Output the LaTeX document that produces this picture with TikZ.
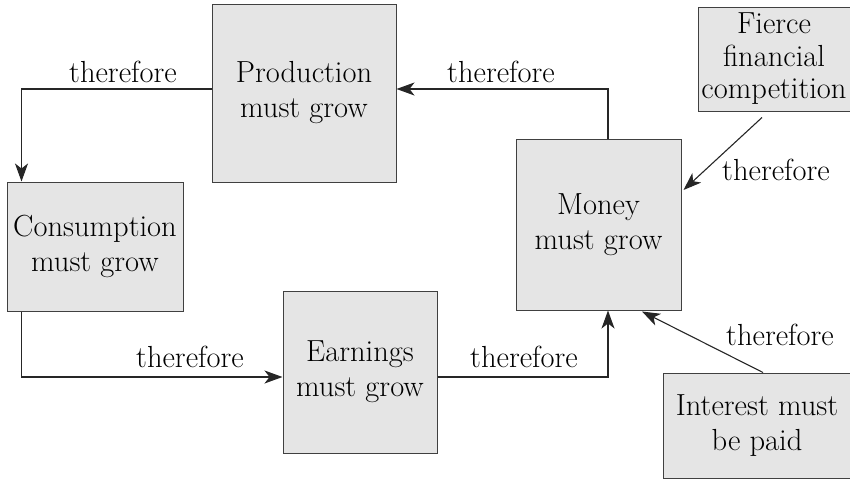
\documentclass[tikz,border=0pt]{standalone}
\usetikzlibrary{arrows.meta,calc}
\begin{document}
\begin{tikzpicture}[x=1pt,y=-1pt,
  box/.style={draw=black!75,fill=black!10,line width=1pt,rectangle,align=center,inner sep=0pt,
    font=\fontsize{30.5}{35}\selectfont},
  lbl/.style={anchor=base,inner sep=0pt,font=\fontsize{30.5}{35}\selectfont},
  arr/.style={draw=black!85,line width=1.1pt,-{Stealth[length=18pt,width=13pt,inset=5pt]}},
  ln/.style={draw=black!85,line width=1.1pt}]
\useasboundingbox (0,0) rectangle (850,479);
\node[box,minimum width=184pt,minimum height=178pt] (prod) at (304,93) {Production\\must grow};
\node[box,minimum width=176pt,minimum height=129pt] (cons) at (95,246.5) {Consumption\\must grow};
\node[box,minimum width=154pt,minimum height=162pt] (earn) at (360,372) {Earnings\\must grow};
\node[box,minimum width=165pt,minimum height=171pt] (money) at (598.5,224.5) {Money\\must grow};
\node[box,minimum width=152pt,minimum height=104pt,font=\fontsize{30.5}{32.5}\selectfont] (fierce) at (774,59) {Fierce\\financial\\competition};
\node[box,minimum width=188pt,minimum height=105pt] (int) at (757,425.5) {Interest must\\be paid};
\draw[arr] ([yshift=4pt]prod.west) -| ([xshift=15pt]cons.north west);
\draw[arr] ([xshift=9.5pt]money.north) |- ([yshift=4pt]prod.east);
\draw[arr] ([xshift=-12pt,yshift=-6pt]fierce.south) -- ([xshift=2pt,yshift=34.5pt]money.east);
\draw[arr] ([xshift=15pt]cons.south west) |- ([yshift=-5pt]earn.west);
\draw[arr] ([yshift=-5pt]earn.east) -| ([xshift=9.5pt]money.south);
\draw[arr] ([xshift=6pt]int.north) -- ([xshift=43.5pt,yshift=-1pt]money.south);
\node[lbl] (l1) at (123,82) {therefore};
\node[lbl] (l2) at (501,82) {therefore};
\node[lbl] (l3) at (776,180) {therefore};
\node[lbl] (l4) at (190,367) {therefore};
\node[lbl] (l5) at (524,367) {therefore};
\node[lbl] (l6) at (780,345) {therefore};
\end{tikzpicture}
\end{document}
